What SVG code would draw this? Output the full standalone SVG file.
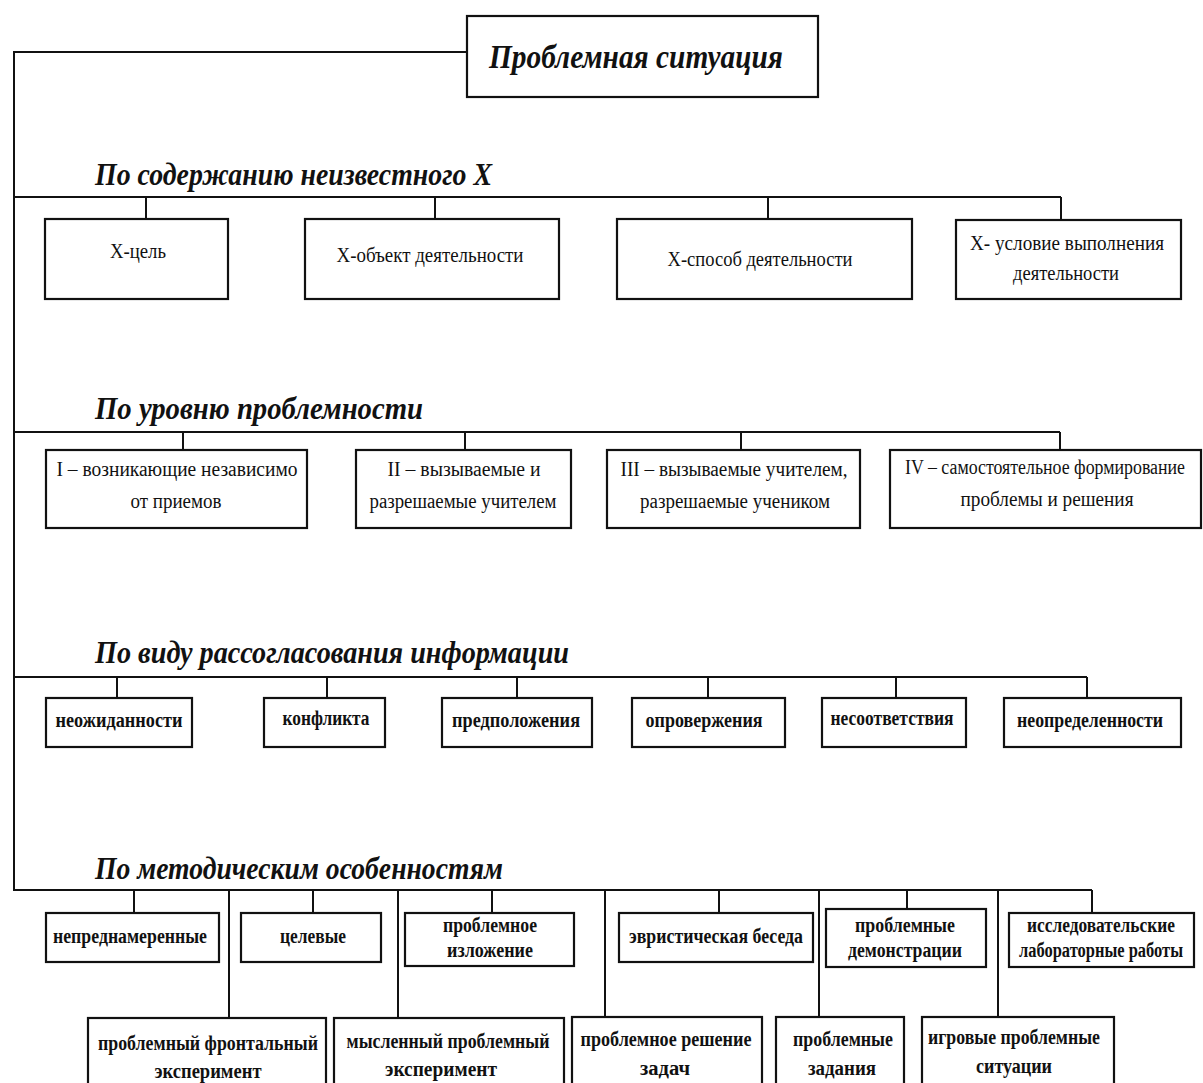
<svg xmlns="http://www.w3.org/2000/svg" width="1203" height="1083" viewBox="0 0 1203 1083">
<style>
.bg{fill:#ffffff}
.box{fill:#ffffff;stroke:#111;stroke-width:2.2}
.ln{fill:none;stroke:#111;stroke-width:2}
.h{font-family:"Liberation Serif","DejaVu Serif",serif;font-weight:bold;font-style:italic;fill:#111}
.t{font-family:"Liberation Serif","DejaVu Serif",serif;font-size:20px;fill:#111;text-anchor:middle}
.tb{font-family:"Liberation Serif","DejaVu Serif",serif;font-size:20px;font-weight:bold;fill:#111;text-anchor:middle}
</style>
<rect class="bg" x="0" y="0" width="1203" height="1083"/>
<g id="connectors">
<path class="ln" d="M467,52 H14 V890 H1092"/>
<path class="ln" d="M14,197 H1061 M146,197 V219 M435,197 V219 M768,197 V219 M1061,197 V220"/>
<path class="ln" d="M14,432 H1060 M183,432 V450 M465,432 V450 M741,432 V450 M1060,432 V450"/>
<path class="ln" d="M14,677 H1087 M117,677 V698 M327,677 V698 M517,677 V698 M708,677 V698 M896,677 V698 M1087,677 V698"/>
<path class="ln" d="M134,890 V913 M313,890 V913 M492,890 V913 M719,890 V913 M907,890 V909 M1092,890 V913"/>
<path class="ln" d="M229,890 V1018 M398,890 V1018 M605,890 V1017 M819,890 V1017 M998,890 V1017"/>
</g>
<g id="root">
<rect class="box" x="467" y="16" width="351" height="81"/>
<text class="h" x="489" y="68" font-size="34" textLength="294" lengthAdjust="spacingAndGlyphs">Проблемная ситуация</text>
</g>
<g id="title1"><text class="h" x="95" y="185" font-size="32" textLength="397" lengthAdjust="spacingAndGlyphs">По содержанию неизвестного X</text></g>
<g id="title2"><text class="h" x="95" y="419" font-size="32" textLength="328" lengthAdjust="spacingAndGlyphs">По уровню проблемности</text></g>
<g id="title3"><text class="h" x="95" y="663" font-size="32" textLength="474" lengthAdjust="spacingAndGlyphs">По виду рассогласования информации</text></g>
<g id="title4"><text class="h" x="95" y="879" font-size="32" textLength="408" lengthAdjust="spacingAndGlyphs">По методическим особенностям</text></g>

<g id="x-goal"><rect class="box" x="45" y="219" width="183" height="80"/><text class="t" x="138" y="258" textLength="56" lengthAdjust="spacingAndGlyphs">X-цель</text></g>
<g id="x-object"><rect class="box" x="305" y="219" width="254" height="80"/><text class="t" x="430" y="262" textLength="187" lengthAdjust="spacingAndGlyphs">X-объект деятельности</text></g>
<g id="x-method"><rect class="box" x="617" y="219" width="295" height="80"/><text class="t" x="760" y="266" textLength="185" lengthAdjust="spacingAndGlyphs">X-способ деятельности</text></g>
<g id="x-condition"><rect class="box" x="956" y="220" width="225" height="79"/><text class="t" x="1067" y="250" textLength="194" lengthAdjust="spacingAndGlyphs">X- условие выполнения</text><text class="t" x="1066" y="280" textLength="106" lengthAdjust="spacingAndGlyphs">деятельности</text></g>

<g id="level1"><rect class="box" x="46" y="450" width="261" height="78"/><text class="t" x="177" y="476" textLength="241" lengthAdjust="spacingAndGlyphs">I – возникающие независимо</text><text class="t" x="176" y="508" textLength="91" lengthAdjust="spacingAndGlyphs">от приемов</text></g>
<g id="level2"><rect class="box" x="356" y="450" width="215" height="78"/><text class="t" x="464" y="476" textLength="153" lengthAdjust="spacingAndGlyphs">II – вызываемые и</text><text class="t" x="463" y="508" textLength="187" lengthAdjust="spacingAndGlyphs">разрешаемые учителем</text></g>
<g id="level3"><rect class="box" x="607" y="450" width="253" height="78"/><text class="t" x="734" y="476" textLength="227" lengthAdjust="spacingAndGlyphs">III – вызываемые учителем,</text><text class="t" x="735" y="508" textLength="190" lengthAdjust="spacingAndGlyphs">разрешаемые учеником</text></g>
<g id="level4"><rect class="box" x="890" y="450" width="311" height="78"/><text class="t" x="1045" y="474" font-size="17" textLength="280" lengthAdjust="spacingAndGlyphs">IV – самостоятельное формирование</text><text class="t" x="1047" y="506" textLength="173" lengthAdjust="spacingAndGlyphs">проблемы и решения</text></g>

<g id="mis1"><rect class="box" x="46" y="698" width="146" height="49"/><text class="tb" x="119" y="727" textLength="127" lengthAdjust="spacingAndGlyphs">неожиданности</text></g>
<g id="mis2"><rect class="box" x="264" y="698" width="121" height="49"/><text class="tb" x="326" y="725" textLength="87" lengthAdjust="spacingAndGlyphs">конфликта</text></g>
<g id="mis3"><rect class="box" x="442" y="698" width="150" height="49"/><text class="tb" x="516" y="727" textLength="128" lengthAdjust="spacingAndGlyphs">предположения</text></g>
<g id="mis4"><rect class="box" x="632" y="698" width="153" height="49"/><text class="tb" x="704" y="727" textLength="117" lengthAdjust="spacingAndGlyphs">опровержения</text></g>
<g id="mis5"><rect class="box" x="822" y="698" width="144" height="49"/><text class="tb" x="892" y="725" textLength="123" lengthAdjust="spacingAndGlyphs">несоответствия</text></g>
<g id="mis6"><rect class="box" x="1004" y="698" width="177" height="49"/><text class="tb" x="1090" y="727" textLength="146" lengthAdjust="spacingAndGlyphs">неопределенности</text></g>

<g id="m-unintended"><rect class="box" x="46" y="913" width="173" height="49"/><text class="tb" x="130" y="943" textLength="154" lengthAdjust="spacingAndGlyphs">непреднамеренные</text></g>
<g id="m-targeted"><rect class="box" x="241" y="913" width="140" height="49"/><text class="tb" x="313" y="943" textLength="66" lengthAdjust="spacingAndGlyphs">целевые</text></g>
<g id="m-exposition"><rect class="box" x="405" y="913" width="169" height="53"/><text class="tb" x="490" y="932" textLength="94" lengthAdjust="spacingAndGlyphs">проблемное</text><text class="tb" x="490" y="957" textLength="86" lengthAdjust="spacingAndGlyphs">изложение</text></g>
<g id="m-heuristic"><rect class="box" x="619" y="913" width="194" height="49"/><text class="tb" x="716" y="943" textLength="174" lengthAdjust="spacingAndGlyphs">эвристическая беседа</text></g>
<g id="m-demonstrations"><rect class="box" x="826" y="909" width="160" height="58"/><text class="tb" x="905" y="932" textLength="100" lengthAdjust="spacingAndGlyphs">проблемные</text><text class="tb" x="905" y="957" textLength="114" lengthAdjust="spacingAndGlyphs">демонстрации</text></g>
<g id="m-lab"><rect class="box" x="1009" y="913" width="185" height="54"/><text class="tb" x="1101" y="932" textLength="148" lengthAdjust="spacingAndGlyphs">исследовательские</text><text class="tb" x="1101" y="957" font-size="16" textLength="164" lengthAdjust="spacingAndGlyphs">лабораторные работы</text></g>

<g id="m-frontal"><rect class="box" x="88" y="1018" width="238" height="75"/><text class="tb" x="208" y="1050" textLength="220" lengthAdjust="spacingAndGlyphs">проблемный фронтальный</text><text class="tb" x="208" y="1078" textLength="107" lengthAdjust="spacingAndGlyphs">эксперимент</text></g>
<g id="m-thought"><rect class="box" x="334" y="1018" width="230" height="75"/><text class="tb" x="448" y="1048" textLength="203" lengthAdjust="spacingAndGlyphs">мысленный проблемный</text><text class="tb" x="441" y="1076" textLength="112" lengthAdjust="spacingAndGlyphs">эксперимент</text></g>
<g id="m-tasks"><rect class="box" x="572" y="1017" width="190" height="76"/><text class="tb" x="666" y="1046" textLength="171" lengthAdjust="spacingAndGlyphs">проблемное решение</text><text class="tb" x="665" y="1075" textLength="50" lengthAdjust="spacingAndGlyphs">задач</text></g>
<g id="m-assignments"><rect class="box" x="776" y="1017" width="128" height="76"/><text class="tb" x="843" y="1046" textLength="100" lengthAdjust="spacingAndGlyphs">проблемные</text><text class="tb" x="842" y="1075" textLength="68" lengthAdjust="spacingAndGlyphs">задания</text></g>
<g id="m-game"><rect class="box" x="922" y="1017" width="192" height="76"/><text class="tb" x="1014" y="1044" textLength="172" lengthAdjust="spacingAndGlyphs">игровые проблемные</text><text class="tb" x="1014" y="1073" textLength="76" lengthAdjust="spacingAndGlyphs">ситуации</text></g>
</svg>
